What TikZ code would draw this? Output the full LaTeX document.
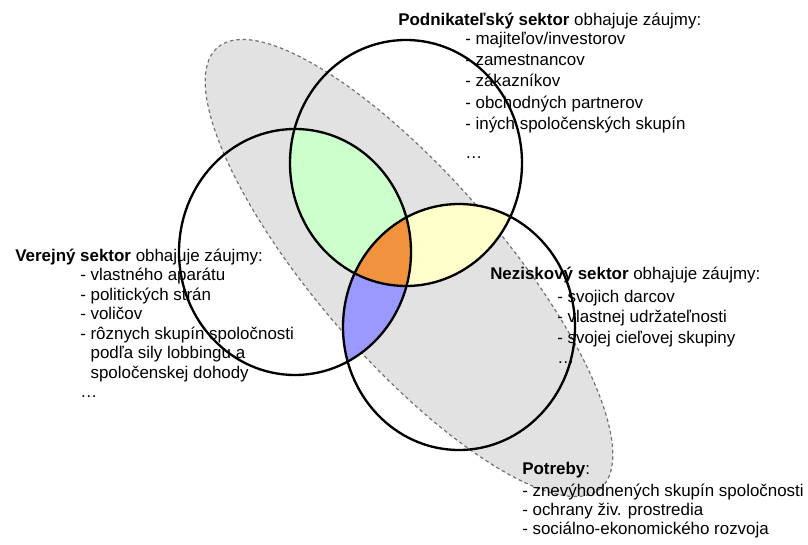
\documentclass[tikz,border=0pt]{standalone}
\usepackage{fontspec}
\setmainfont{Liberation Sans}
\usetikzlibrary{positioning}

\definecolor{ovalgray}{RGB}{226,226,226}
\definecolor{lensgreen}{RGB}{204,255,204}
\definecolor{lensyellow}{RGB}{255,255,204}
\definecolor{lensblue}{RGB}{153,153,255}
\definecolor{lensorange}{RGB}{240,146,62}

\begin{document}
\begin{tikzpicture}[
        x=0.75pt, y=-0.75pt,
        ring/.style={x radius=116, y radius=123},
        ringline/.style={draw=black, line width=1.75pt},
        oval/.style={fill=ovalgray, draw=gray!90!black, dashed, dash pattern=on 2.6pt off 2.2pt, line width=0.9pt},
        head/.style={anchor=west, inner sep=0pt, font=\fontsize{12.7}{15}\selectfont},
        list/.style={anchor=north west, inner sep=0pt, align=left, font=\fontsize{12.7}{14.6}\selectfont}
    ]
        \useasboundingbox (0,0) rectangle (808,545);

        % Centres
        \coordinate (biz) at (406,163);
        \coordinate (pub) at (295,252);
        \coordinate (npo) at (459,327);
        \coordinate (needs) at (409,268);

        % Needs oval
        \draw[oval, rotate around={-49:(needs)}] (needs) ellipse [x radius=292, y radius=92];

        % Overlaps
        \begin{scope}
            \clip (biz) ellipse [ring];
            \fill[lensgreen] (pub) ellipse [ring];
            \fill[lensyellow] (npo) ellipse [ring];
        \end{scope}
        \begin{scope}
            \clip (pub) ellipse [ring];
            \fill[lensblue] (npo) ellipse [ring];
            \clip (biz) ellipse [ring];
            \fill[lensorange] (npo) ellipse [ring];
        \end{scope}

        % Business sector
        \node[head] (bizhead) at (398,21) {\textbf{Podnikateľský sektor} obhajuje záujmy:};
        \node[list, font=\fontsize{12.7}{15.9}\selectfont] (bizlist) at (465,32)
            {- majiteľov/investorov\\- zamestnancov\\- zákazníkov\\- obchodných partnerov\\- iných spoločenských skupín\\[6pt]…};

        % Public sector
        \node[head] (pubhead) at (15,257) {\textbf{Verejný sektor} obhajuje záujmy:};
        \node[list, font=\fontsize{12.7}{14.6}\selectfont] (publist) at (80,268)
            {- vlastného aparátu\\- politických strán\\- voličov\\- rôznych skupín spoločnosti\\\phantom{- }podľa sily lobbingu a\\\phantom{- }spoločenskej dohody\\…};

        % Non-profit sector
        \node[head] (npohead) at (490,275) {\textbf{Neziskový sektor} obhajuje záujmy:};
        \node[list, font=\fontsize{12.7}{15.2}\selectfont] (npolist) at (557,290)
            {- svojich darcov\\- vlastnej udržateľnosti\\- svojej cieľovej skupiny\\…};

        % Needs
        \node[head] (needshead) at (522,470) {\textbf{Potreby}:};
        \node[list, font=\fontsize{12.7}{14.3}\selectfont] (needslist) at (522,484)
            {- znevýhodnených skupín spoločnosti\\- ochrany živ. prostredia\\- sociálno-ekonomického rozvoja};

        % Circles
        \draw[ringline] (biz) ellipse [ring];
        \draw[ringline] (pub) ellipse [ring];
        \draw[ringline] (npo) ellipse [ring];
    \end{tikzpicture}
\end{document}
